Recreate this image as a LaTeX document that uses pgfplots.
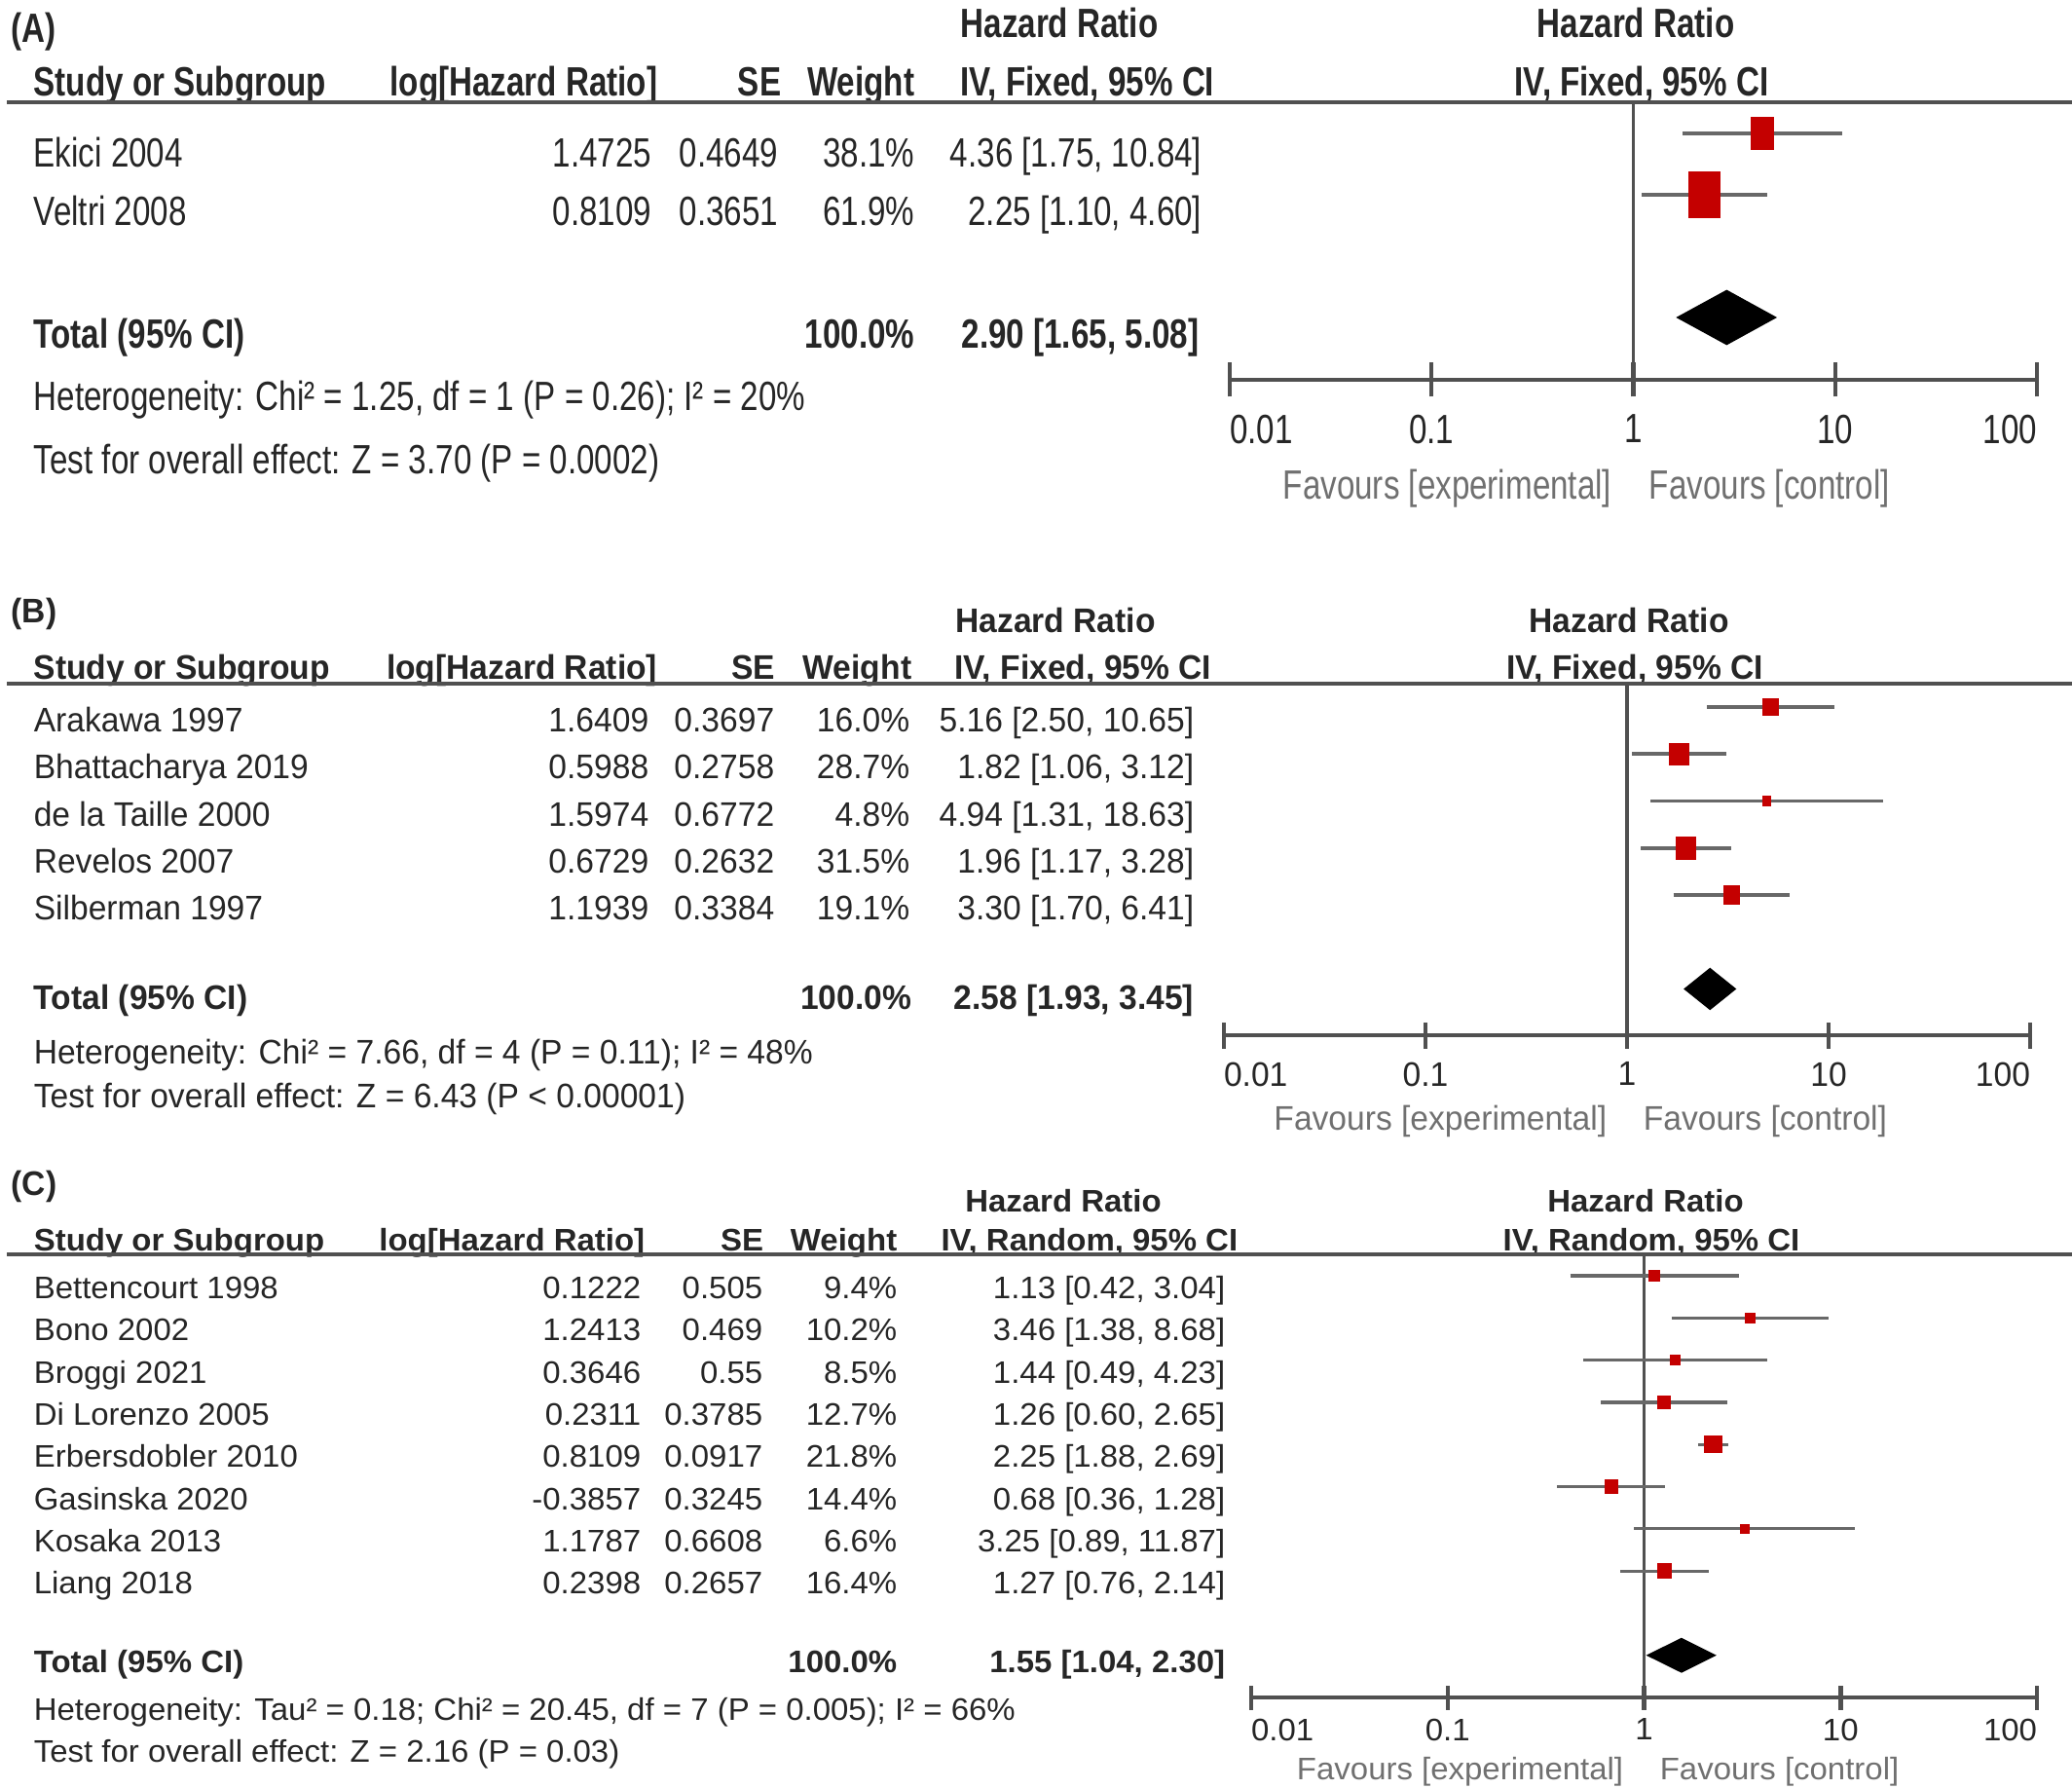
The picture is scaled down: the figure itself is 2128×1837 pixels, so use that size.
\documentclass[border=0pt]{standalone}
\usepackage{fontspec}
\usepackage{pgfplots}
\pgfplotsset{compat=1.18}
\setmainfont{Liberation Sans}
\newfontfamily\fA[FakeStretch=0.79]{Liberation Sans}
\newfontfamily\fB[FakeStretch=0.96]{Liberation Sans}
\newfontfamily\fC[FakeStretch=1.03]{Liberation Sans}
\newcommand\szA{\fA\fontsize{10.5}{12.6}\selectfont}
\newcommand\szB{\fB\fontsize{8.75}{10.5}\selectfont}
\newcommand\szC{\fC\fontsize{8}{9.6}\selectfont}
\definecolor{fpred}{HTML}{C40000}
\definecolor{txt}{HTML}{262626}
\definecolor{ln}{HTML}{505050}
\definecolor{ci}{HTML}{686868}
\definecolor{fav}{HTML}{707070}
\tikzset{
  L/.style={anchor=base west,inner sep=0pt,text=txt},
  R/.style={anchor=base east,inner sep=0pt,text=txt},
  M/.style={anchor=base,inner sep=0pt,text=txt}}
\pgfplotsset{
  fplot/.style={xmin=0.01, xmax=100, scale only axis,
    axis y line=none, axis x line*=bottom, xtick={0.01,0.1,1,10,100}, xminorticks=false,
    xtick align=center, axis line style={ln, line width=1.2pt},
    major tick style={ln, line width=1.1pt}, clip=false,
    xticklabels={\makebox[0pt][l]{0.01},0.1,1,10,\makebox[0pt][r]{100}},
    xticklabel style={inner sep=0pt, anchor=north, text=txt}, anchor=south west},
  cil/.style={color=ci, no marks},
  vline/.style={color=ln, line width=0.8pt, no marks},
  sq/.style={scatter, only marks, mark=square*,
    scatter/use mapped color={draw=fpred,fill=fpred},
    visualization depends on={\thisrow{s}\as\msz},
    scatter/@pre marker code/.append style={/tikz/mark size=\msz}},
  dia/.style={fill=black, draw=black, line width=0.3pt, no marks}}
\newcommand\rowA[6]{%
  \node[L,font=\szA] at (34,#1) {#2};
  \node[R,font=\szA] at (670,#1) {#3};
  \node[R,font=\szA] at (800,#1) {#4};
  \node[R,font=\szA] at (940,#1) {#5};
  \node[R,font=\szA] at (1235,#1) {#6};}
\newcommand\rowB[6]{%
  \node[L,font=\szB] at (34,#1) {#2};
  \node[R,font=\szB] at (667,#1) {#3};
  \node[R,font=\szB] at (796,#1) {#4};
  \node[R,font=\szB] at (935,#1) {#5};
  \node[R,font=\szB] at (1227,#1) {#6};}
\newcommand\rowC[6]{%
  \node[L,font=\szC] at (34,#1) {#2};
  \node[R,font=\szC] at (659,#1) {#3};
  \node[R,font=\szC] at (784,#1) {#4};
  \node[R,font=\szC] at (922,#1) {#5};
  \node[R,font=\szC] at (1259,#1) {#6};}
\begin{document}
\begin{tikzpicture}
\begin{scope}[x=0.25pt,y=-0.25pt]
\path[use as bounding box] (0,0) rectangle (2128,1837);
% ---------------- Panel A
\node[L,font=\szA\bfseries] at (11,44) {(A)};
\node[M,font=\szA\bfseries] at (1088,39) {Hazard Ratio};
\node[M,font=\szA\bfseries] at (1680,39) {Hazard Ratio};
\node[L,font=\szA\bfseries] at (34,99) {Study or Subgroup};
\node[R,font=\szA\bfseries] at (676,99) {log[Hazard Ratio]};
\node[R,font=\szA\bfseries] at (803,99) {SE};
\node[R,font=\szA\bfseries] at (940,99) {Weight};
\node[R,font=\szA\bfseries] at (1248,99) {IV, Fixed, 95\% CI};
\node[M,font=\szA\bfseries] at (1686,99) {IV, Fixed, 95\% CI};
\draw[ln, line width=1.2pt] (7,105) -- (2128,105);
\rowA{172}{Ekici 2004}{1.4725}{0.4649}{38.1\%}{4.36 [1.75, 10.84]}
\rowA{232}{Veltri 2008}{0.8109}{0.3651}{61.9\%}{2.25 [1.10, 4.60]}
\node[L,font=\szA\bfseries] at (34,358) {Total (95\% CI)};
\node[R,font=\szA\bfseries] at (940,358) {100.0\%};
\node[R,font=\szA\bfseries] at (1232,358) {2.90 [1.65, 5.08]};
\node[L,font=\szA] at (34,422) {Heterogeneity: Chi² = 1.25, df = 1 (P = 0.26); I² = 20\%};
\node[L,font=\szA] at (34,487) {Test for overall effect: Z = 3.70 (P = 0.0002)};
\node[R,font=\szA,text=fav] at (1656,513) {Favours [experimental]};
\node[L,font=\szA,text=fav] at (1693,513) {Favours [control]};
% ---------------- Panel B
\node[L,font=\szB\bfseries] at (11,640) {(B)};
\node[M,font=\szB\bfseries] at (1084,650) {Hazard Ratio};
\node[M,font=\szB\bfseries] at (1673,650) {Hazard Ratio};
\node[L,font=\szB\bfseries] at (34,698) {Study or Subgroup};
\node[R,font=\szB\bfseries] at (676,698) {log[Hazard Ratio]};
\node[R,font=\szB\bfseries] at (797,698) {SE};
\node[R,font=\szB\bfseries] at (937,698) {Weight};
\node[R,font=\szB\bfseries] at (1245,698) {IV, Fixed, 95\% CI};
\node[M,font=\szB\bfseries] at (1679,698) {IV, Fixed, 95\% CI};
\draw[ln, line width=1.2pt] (7,702) -- (2128,702);
\rowB{752}{Arakawa 1997}{1.6409}{0.3697}{16.0\%}{5.16 [2.50, 10.65]}
\rowB{800}{Bhattacharya 2019}{0.5988}{0.2758}{28.7\%}{1.82 [1.06, 3.12]}
\rowB{849}{de la Taille 2000}{1.5974}{0.6772}{4.8\%}{4.94 [1.31, 18.63]}
\rowB{897}{Revelos 2007}{0.6729}{0.2632}{31.5\%}{1.96 [1.17, 3.28]}
\rowB{945}{Silberman 1997}{1.1939}{0.3384}{19.1\%}{3.30 [1.70, 6.41]}
\node[L,font=\szB\bfseries] at (34,1036) {Total (95\% CI)};
\node[R,font=\szB\bfseries] at (937,1036) {100.0\%};
\node[R,font=\szB\bfseries] at (1227,1036) {2.58 [1.93, 3.45]};
\node[L,font=\szB] at (34,1092) {Heterogeneity: Chi² = 7.66, df = 4 (P = 0.11); I² = 48\%};
\node[L,font=\szB] at (34,1137) {Test for overall effect: Z = 6.43 (P < 0.00001)};
\node[R,font=\szB,text=fav] at (1651,1160) {Favours [experimental]};
\node[L,font=\szB,text=fav] at (1687,1160) {Favours [control]};
% ---------------- Panel C
\node[L,font=\szB\bfseries] at (11,1227) {(C)};
\node[M,font=\szC\bfseries] at (1092,1244) {Hazard Ratio};
\node[M,font=\szC\bfseries] at (1690,1244) {Hazard Ratio};
\node[L,font=\szC\bfseries] at (34,1284) {Study or Subgroup};
\node[R,font=\szC\bfseries] at (663,1284) {log[Hazard Ratio]};
\node[R,font=\szC\bfseries] at (785,1284) {SE};
\node[R,font=\szC\bfseries] at (922,1284) {Weight};
\node[R,font=\szC\bfseries] at (1272,1284) {IV, Random, 95\% CI};
\node[M,font=\szC\bfseries] at (1696,1284) {IV, Random, 95\% CI};
\draw[ln, line width=1.2pt] (7,1288) -- (2128,1288);
\rowC{1333.5}{Bettencourt 1998}{0.1222}{0.505}{9.4\%}{1.13 [0.42, 3.04]}
\rowC{1376.8}{Bono 2002}{1.2413}{0.469}{10.2\%}{3.46 [1.38, 8.68]}
\rowC{1420.1}{Broggi 2021}{0.3646}{0.55}{8.5\%}{1.44 [0.49, 4.23]}
\rowC{1463.4}{Di Lorenzo 2005}{0.2311}{0.3785}{12.7\%}{1.26 [0.60, 2.65]}
\rowC{1506.7}{Erbersdobler 2010}{0.8109}{0.0917}{21.8\%}{2.25 [1.88, 2.69]}
\rowC{1550.0}{Gasinska 2020}{-0.3857}{0.3245}{14.4\%}{0.68 [0.36, 1.28]}
\rowC{1593.3}{Kosaka 2013}{1.1787}{0.6608}{6.6\%}{3.25 [0.89, 11.87]}
\rowC{1636.6}{Liang 2018}{0.2398}{0.2657}{16.4\%}{1.27 [0.76, 2.14]}
\node[L,font=\szC\bfseries] at (34,1717) {Total (95\% CI)};
\node[R,font=\szC\bfseries] at (922,1717) {100.0\%};
\node[R,font=\szC\bfseries] at (1259,1717) {1.55 [1.04, 2.30]};
\node[L,font=\szC] at (34,1766) {Heterogeneity: Tau² = 0.18; Chi² = 20.45, df = 7 (P = 0.005); I² = 66\%};
\node[L,font=\szC] at (34,1809) {Test for overall effect: Z = 2.16 (P = 0.03)};
\node[R,font=\szC,text=fav] at (1668,1827) {Favours [experimental]};
\node[L,font=\szC,text=fav] at (1704,1827) {Favours [control]};
\end{scope}
% ---------------- Forest A
\begin{axis}[xmode=log, fplot, at={(315.75pt,-97.5pt)}, width=207.25pt, height=71.25pt,
  ymin=-5.016, ymax=-0.492, major tick length=8.75pt,
  xticklabel style={font=\szA, yshift=-4.4pt}]
\addplot[vline] coordinates {(1,-0.492) (1,-5.016)};
\addplot[cil, line width=1pt] coordinates {(1.75,-1) (10.84,-1)};
\addplot[cil, line width=1pt] coordinates {(1.10,-2) (4.60,-2)};
\addplot[sq, mark options={yscale=1.45}] table[x=hr,y=y] {
hr   y  s
4.36 -1 2.75
2.25 -2 4.0
};
\addplot[dia] coordinates {(1.65,-4) (2.90,-3.56) (5.08,-4) (2.90,-4.44)} -- cycle;
\end{axis}
% ---------------- Forest B
\begin{axis}[xmode=log, fplot, at={(314.25pt,-265.75pt)}, width=207pt, height=90.25pt,
  ymin=-7.985, ymax=-0.503, major tick length=6.75pt,
  xticklabel style={font=\szB, yshift=-3.4pt}]
\addplot[vline] coordinates {(1,-0.503) (1,-7.985)};
\addplot[cil, line width=0.9pt] coordinates {(2.50,-1) (10.65,-1)};
\addplot[cil, line width=0.9pt] coordinates {(1.06,-2) (3.12,-2)};
\addplot[cil, line width=0.9pt] coordinates {(1.31,-3) (18.63,-3)};
\addplot[cil, line width=0.9pt] coordinates {(1.17,-4) (3.28,-4)};
\addplot[cil, line width=0.9pt] coordinates {(1.70,-5) (6.41,-5)};
\addplot[sq, mark options={yscale=1.12}] table[x=hr,y=y] {
hr   y  s
5.16 -1 1.9
1.82 -2 2.4
4.94 -3 1.0
1.96 -4 2.5
3.30 -5 2.0
};
\addplot[dia] coordinates {(1.93,-7) (2.58,-6.565) (3.45,-7) (2.58,-7.435)} -- cycle;
\end{axis}
% ---------------- Forest C
\begin{axis}[xmode=log, fplot, at={(321.25pt,-435.75pt)}, width=201.75pt, height=113.75pt,
  ymin=-11, ymax=-0.49, major tick length=6.25pt,
  xticklabel style={font=\szC, yshift=-2.1pt}]
\addplot[vline] coordinates {(1,-0.49) (1,-11)};
\addplot[cil, line width=0.8pt] coordinates {(0.42,-1) (3.04,-1)};
\addplot[cil, line width=0.8pt] coordinates {(1.38,-2) (8.68,-2)};
\addplot[cil, line width=0.8pt] coordinates {(0.49,-3) (4.23,-3)};
\addplot[cil, line width=0.8pt] coordinates {(0.60,-4) (2.65,-4)};
\addplot[cil, line width=0.8pt] coordinates {(1.88,-5) (2.69,-5)};
\addplot[cil, line width=0.8pt] coordinates {(0.36,-6) (1.28,-6)};
\addplot[cil, line width=0.8pt] coordinates {(0.89,-7) (11.87,-7)};
\addplot[cil, line width=0.8pt] coordinates {(0.76,-8) (2.14,-8)};
\addplot[sq] table[x=hr,y=y] {
hr   y  s
1.13 -1 1.25
3.46 -2 1.25
1.44 -3 1.15
1.26 -4 1.5
2.25 -5 2.1
0.68 -6 1.6
3.25 -7 1.0
1.27 -8 1.75
};
\addplot[dia] coordinates {(1.04,-10) (1.55,-9.6) (2.30,-10) (1.55,-10.4)} -- cycle;
\end{axis}
\end{tikzpicture}
\end{document}
